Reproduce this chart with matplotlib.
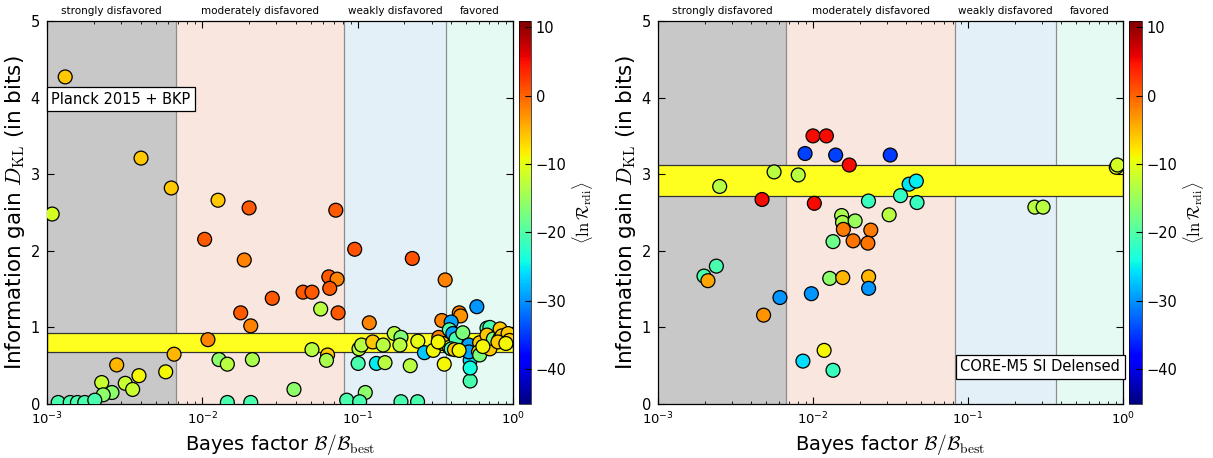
import numpy as np
import matplotlib
matplotlib.use('Agg')
import matplotlib.pyplot as plt
from matplotlib.colors import Normalize
from matplotlib.cm import ScalarMappable

plt.rcParams['font.family'] = ['DejaVu Sans']
plt.rcParams['mathtext.fontset'] = 'cm'

# ---------------- data ----------------
# Left panel: Planck 2015 + BKP
bf_left = [0.00131, 0.00403, 0.00631, 0.01262, 0.0200, 0.0723, 0.00108,
           0.01035, 0.01862, 0.0652, 0.0737, 0.0445, 0.0508, 0.0661, 0.0282,
           0.0578, 0.0748, 0.01766, 0.0205, 0.01087, 0.0508, 0.064, 0.063,
           0.0128, 0.01449, 0.0210, 0.00658, 0.00581, 0.00281, 0.00391,
           0.00319, 0.00356, 0.00225, 0.00262, 0.0023, 0.0389,
           0.00118, 0.00141, 0.00157, 0.00175, 0.00203, 0.01449, 0.0205,
           0.0957, 0.2248, 0.366, 0.1188, 0.585, 0.348, 0.451, 0.46, 0.40,
           0.172, 0.19, 0.102, 0.106, 0.125, 0.146, 0.187, 0.244, 0.1007,
           0.132, 0.150, 0.218, 0.269, 0.307, 0.361, 0.112, 0.085, 0.103,
           0.19, 0.243, 0.53, 0.53, 0.53,
           0.333, 0.354, 0.389, 0.39, 0.41, 0.43, 0.475, 0.40, 0.42, 0.52,
           0.52, 0.61, 0.60, 0.61, 0.68, 0.71, 0.68, 0.71, 0.748, 0.826,
           0.82, 0.85, 0.93, 0.95, 0.80, 0.90, 0.64, 0.33, 0.45]
dkl_left = [4.27, 3.21, 2.82, 2.66, 2.56, 2.53, 2.48,
            2.15, 1.88, 1.66, 1.63, 1.46, 1.46, 1.51, 1.38,
            1.24, 1.19, 1.19, 1.02, 0.84, 0.71, 0.64, 0.57,
            0.58, 0.52, 0.58, 0.65, 0.42, 0.51, 0.37,
            0.27, 0.19, 0.28, 0.15, 0.12, 0.19,
            0.02, 0.02, 0.02, 0.02, 0.05, 0.02, 0.02,
            2.02, 1.90, 1.62, 1.06, 1.27, 1.09, 1.19, 1.15, 1.07,
            0.92, 0.87, 0.72, 0.77, 0.81, 0.77, 0.77, 0.82, 0.53,
            0.53, 0.54, 0.50, 0.67, 0.70, 0.52, 0.15, 0.05, 0.03,
            0.03, 0.03, 0.30, 0.57, 0.47,
            0.87, 0.79, 0.97, 0.74, 0.92, 0.85, 0.93, 0.72, 0.71, 0.77,
            0.68, 0.80, 0.68, 0.64, 0.99, 1.00, 0.90, 0.72, 0.85, 0.98,
            0.85, 0.89, 0.92, 0.83, 0.81, 0.79, 0.75, 0.81, 0.70]
lnr_left = [-6, -6, -6, -6, 0.5, 0.5, -11,
            0.5, -2, 0.5, -2, 0.5, 0.5, 0.5, 0.5,
            -13, 0.5, 0.5, -2, -2, -13, -6, -14,
            -16, -13, -14, -5, -9, -5, -9,
            -12, -12, -12, -16, -16, -16,
            -20.5, -20.5, -20.5, -20.5, -20.5, -20.5, -20.5,
            1, 1, -2, -2, -30, -2, -2, -3, -29,
            -13, -17, -13, -13, -6, -13, -13, -10, -20.5,
            -25, -13, -13, -27, -9, -9, -16, -20.5, -20.5,
            -20.5, -20.5, -20.5, -26, -24,
            -2, -6, -20.5, -9, -29, -20.5, -17, -21, -6, -29,
            -29, -6, -6, -17, -20.5, -20.5, -6, -6, -17, -6,
            -18, -6, -6, -6, -6, -9, -9, -9, -9]

# Right panel: CORE-M5 SI Delensed
bf_right = [0.00250, 0.00469, 0.00561, 0.00803, 0.00889, 0.0100, 0.0122,
            0.0140, 0.01714, 0.0315, 0.0102, 0.0228, 0.0367, 0.0417, 0.0464,
            0.0469, 0.0310, 0.0153, 0.0155, 0.0157, 0.0187, 0.0236, 0.01346,
            0.01815, 0.0226, 0.01282, 0.01556, 0.02285, 0.02285, 0.00976,
            0.00612, 0.0048, 0.00238, 0.00198, 0.0021, 0.0118, 0.00861,
            0.01346, 0.270, 0.305, 0.905, 0.92]
dkl_right = [2.84, 2.67, 3.03, 2.99, 3.27, 3.50, 3.50,
             3.25, 3.12, 3.25, 2.62, 2.65, 2.72, 2.87, 2.91,
             2.63, 2.47, 2.46, 2.37, 2.28, 2.39, 2.27, 2.12,
             2.13, 2.10, 1.64, 1.65, 1.66, 1.51, 1.44,
             1.39, 1.16, 1.80, 1.67, 1.61, 0.70, 0.56,
             0.44, 2.57, 2.57, 3.09, 3.12]
lnr_right = [-13, 5, -13, -13, -34.5, 5, 5,
             -34.5, 5, -35, 5, -21.5, -22, -25.5, -25,
             -21.5, -13, -14, -14, -1.5, -15, -1.5, -18,
             -1, -1, -16, -5, -5, -30, -30,
             -30, -3, -20.5, -20.5, -4, -9, -26,
             -21.5, -13, -13, -11, -11]

band_left = [0.68, 0.93]
band_right = [2.72, 3.12]

region_edges = [1e-3, np.exp(-5.0), np.exp(-2.5), np.exp(-1.0), 1.0]
region_names = ['strongly disfavored', 'moderately disfavored',
                'weakly disfavored', 'favored']
region_colors = ['#c8c8c8', '#f9e6de', '#e4f0f8', '#e6faf4']

cbar_ticks = [-40, -30, -20, -10, 0, 10]
panel_labels = ['Planck 2015 + BKP', 'CORE-M5 SI Delensed']

# ---------------- figure ----------------
W, H = 1213, 458
fig = plt.figure(figsize=(W / 100, H / 100), dpi=100)


def box(x0, x1, y0=21, y1=404):
    return [x0 / W, 1 - y1 / H, (x1 - x0) / W, (y1 - y0) / H]


ax1 = fig.add_axes(box(47, 513))
cax1 = fig.add_axes(box(519, 531))
ax2 = fig.add_axes(box(658, 1123))
cax2 = fig.add_axes(box(1129, 1142))

norm = Normalize(vmin=-45.1, vmax=10.9)
cmap = plt.get_cmap('jet')

xlabel = r'Bayes factor $\mathcal{B}/\mathcal{B}_{\rm best}$'
ylabel = r'Information gain $D_{\rm KL}$ (in bits)'
clabel = r'$\langle\ln\mathcal{R}_{\rm rdi}\rangle$'

panels = [(ax1, cax1, bf_left, dkl_left, lnr_left, band_left, panel_labels[0]),
          (ax2, cax2, bf_right, dkl_right, lnr_right, band_right, panel_labels[1])]

for i, (ax, cax, bf, dkl, lnr, band, plabel) in enumerate(panels):
    ax.set_xscale('log')
    ax.set_xlim(1e-3, 1.0)
    ax.set_ylim(0, 5)
    for lo, hi, col, name in zip(region_edges[:-1], region_edges[1:],
                                 region_colors, region_names):
        ax.axvspan(lo, hi, color=col, lw=0, zorder=0)
        ax.text(np.sqrt(lo * hi), 5.07, name, ha='center', va='bottom',
                fontsize=7.5, clip_on=False)
    for e in region_edges[1:-1]:
        ax.axvline(e, color='#8c8c8c', lw=0.9, zorder=0.5)
    ax.axhspan(band[0], band[1], facecolor='#ffff1f', edgecolor='#333333',
               lw=0.9, zorder=1)
    ax.scatter(bf, dkl, c=lnr, cmap=cmap, norm=norm, s=100,
               edgecolors='black', linewidths=0.9, zorder=3)
    ax.set_yticks([0, 1, 2, 3, 4, 5])
    ax.tick_params(which='both', direction='in', top=True, right=True)
    ax.tick_params(axis='y', labelsize=10.5, pad=5)
    ax.tick_params(axis='x', labelsize=9.5, pad=5)
    ax.tick_params(which='major', length=5, width=0.8)
    ax.tick_params(which='minor', length=2.5, width=0.6)
    ax.set_xlabel(xlabel, fontsize=14, labelpad=3)
    ax.set_ylabel(ylabel, fontsize=15.5, labelpad=3)
    for sp in ax.spines.values():
        sp.set_linewidth(0.9)
    if i == 0:
        ax.text(0.009, 0.796, plabel, transform=ax.transAxes, ha='left',
                va='center', fontsize=10.5, zorder=5,
                bbox=dict(boxstyle='square,pad=0.3', fc='white', ec='black',
                          lw=0.9))
    else:
        ax.text(0.994, 0.097, plabel, transform=ax.transAxes, ha='right',
                va='center', fontsize=10.5, zorder=5,
                bbox=dict(boxstyle='square,pad=0.3', fc='white', ec='black',
                          lw=0.9))

    sm = ScalarMappable(norm=norm, cmap=cmap)
    cb = fig.colorbar(sm, cax=cax, ticks=cbar_ticks)
    cb.outline.set_linewidth(0.5)
    cb.ax.tick_params(direction='in', length=4, labelsize=10.5)
    cb.set_label(clabel, fontsize=12, labelpad=2)

fig.savefig('out.png', dpi=100)
